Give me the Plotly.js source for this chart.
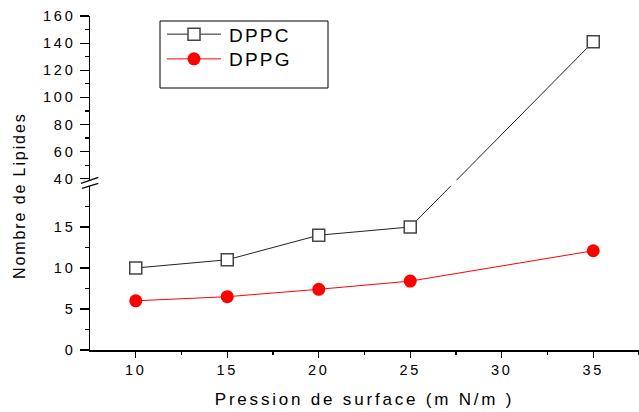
<!DOCTYPE html>
<html>
<head>
<meta charset="utf-8">
<script src="https://cdn.plot.ly/plotly-3.0.1.min.js"></script>
<style>
  html, body { margin: 0; padding: 0; background: #fff; }
  #chart { width: 639px; height: 412px; }
  .xtick text, .ytick text { letter-spacing: 2.8px; }
  .xtitle { letter-spacing: 2.8px; }
  .legendtext { letter-spacing: 2.2px; }
  .annotation-text { letter-spacing: 1.9px; }
</style>
</head>
<body>
<div id="chart"></div>
<script>
// ---- data ----
const pression = [10, 15, 20, 25, 35];
const dppc = [10, 11, 14, 15, 141];
const dppg = [6.0, 6.5, 7.4, 8.4, 12.1];
const seriesNames = ["DPPC", "DPPG"];

const xTicks = [10, 15, 20, 25, 30, 35];
const xMinor = [12.5, 17.5, 22.5, 27.5, 32.5, 37.5];
const yTicksLow = [0, 5, 10, 15];
const yTicksHigh = [40, 60, 80, 100, 120, 140, 160];
const yMinorLow = [2.5, 7.5, 12.5, 17.5];
const yMinorHigh = [50, 70, 90, 110, 130, 150];

const xTitle = "Pression de surface (m N/m )";
const yTitle = "Nombre de Lipides";

// ---- broken y axis scale: lower segment 0..20.4, upper segment 37.1..160 (compressed) ----
const LOW_MAX = 20.4, UP_MIN = 37.1, UP_K = 0.1654;
function brk(v) { return v <= LOW_MAX ? v : LOW_MAX + (v - UP_MIN) * UP_K; }

const yTickVals = yTicksLow.concat(yTicksHigh).map(brk);
const yTickText = yTicksLow.concat(yTicksHigh).map(String);
const yMinorVals = yMinorLow.concat(yMinorHigh).map(brk);

const FONT = 'Arial, "Liberation Sans", sans-serif';

const traces = [
  {
    x: pression, y: dppc.map(brk), customdata: dppc, name: seriesNames[0],
    type: 'scatter', mode: 'lines+markers',
    line: { color: '#222', width: 1 },
    marker: { symbol: 'square', size: 12, color: '#fff', line: { color: '#444', width: 1.5 } },
    cliponaxis: false
  },
  {
    x: pression, y: dppg.map(brk), customdata: dppg, name: seriesNames[1],
    type: 'scatter', mode: 'lines+markers',
    line: { color: '#ff0000', width: 1 },
    marker: { symbol: 'circle', size: 13, color: '#ff0000', line: { width: 0 } },
    cliponaxis: false
  }
];

// helpers converting page pixels to paper coords (for decorations only)
const L = 90, T = 16, W = 549, H = 334;
const px = v => (v - L) / W;
const py = v => (T + H - v) / H;

const layout = {
  width: 639, height: 412,
  margin: { l: L, r: 0, t: T, b: 412 - T - H },
  paper_bgcolor: '#fff', plot_bgcolor: '#fff',
  font: { family: FONT, color: '#000' },
  showlegend: true,
  legend: {
    x: px(162), y: py(15.3), xanchor: 'left', yanchor: 'top',
    bgcolor: 'rgba(0,0,0,0)', borderwidth: 0,
    font: { family: FONT, size: 19, color: '#000' },
    itemwidth: 57, tracegroupgap: 0
  },
  xaxis: {
    range: [7.5, 37.5], tickmode: 'array', tickvals: xTicks,
    ticks: 'outside', ticklen: 6, tickwidth: 1.2, tickcolor: '#000',
    showline: true, linecolor: '#000', linewidth: 1.5,
    showgrid: false, zeroline: false,
    tickfont: { family: FONT, size: 14.5, color: '#000' },
    minor: { tickvals: xMinor, ticks: 'outside', ticklen: 3, tickcolor: '#000', tickwidth: 1.2 },
    title: { text: xTitle, font: { family: FONT, size: 17, color: '#000' }, standoff: 16 },
    automargin: false
  },
  yaxis: {
    range: [0, brk(160)], tickmode: 'array', tickvals: yTickVals, ticktext: yTickText,
    ticks: 'outside', ticklen: 9, tickwidth: 1.2, tickcolor: '#000',
    showline: true, linecolor: '#000', linewidth: 1.5,
    showgrid: false, zeroline: false,
    tickfont: { family: FONT, size: 14.5, color: '#000' },
    ticklabelstandoff: 1,
    minor: { tickvals: yMinorVals, ticks: 'outside', ticklen: 4, tickcolor: '#000', tickwidth: 1.2 },
    automargin: false
  },
  annotations: [
    {
      text: yTitle, xref: 'paper', yref: 'paper', x: px(19), y: py(196),
      xanchor: 'center', yanchor: 'middle', textangle: -90, showarrow: false,
      font: { family: FONT, size: 16, color: '#000' }
    }
  ],
  shapes: [
    // legend frame
    { type: 'rect', xref: 'paper', yref: 'paper', x0: px(160), x1: px(328), y0: py(88), y1: py(21),
      line: { color: '#000', width: 1 }, fillcolor: 'rgba(0,0,0,0)', layer: 'above' },
    // break band across the plot
    { type: 'rect', xref: 'paper', yref: 'paper', x0: px(92.5), x1: 1, y0: py(185.8), y1: py(180.3),
      line: { width: 0 }, fillcolor: '#fff', layer: 'above' },
    // gap in the axis line between the break marks
    { type: 'path', xref: 'paper', yref: 'paper',
      path: `M${px(81)},${py(183.3)} L${px(98.3)},${py(177.3)} L${px(98.3)},${py(183.3)} L${px(82)},${py(188.3)} Z`,
      line: { width: 0 }, fillcolor: '#fff', layer: 'above' },
    // break marks
    { type: 'line', xref: 'paper', yref: 'paper', x0: px(81), y0: py(183.3), x1: px(98.3), y1: py(177.3),
      line: { color: '#000', width: 1.3 }, layer: 'above' },
    { type: 'line', xref: 'paper', yref: 'paper', x0: px(82), y0: py(188.3), x1: px(98.3), y1: py(183.3),
      line: { color: '#000', width: 1.3 }, layer: 'above' }
  ]
};

Plotly.newPlot('chart', traces, layout, { displayModeBar: false, staticPlot: true }).then(gd => {
  // longer legend sample lines, symbol in the middle of the line, tighter row spacing
  const items = gd.querySelectorAll('.legend .traces');
  let first = null;
  items.forEach((tr, i) => {
    tr.querySelectorAll('path.js-line').forEach(p => p.setAttribute('d', 'M5,0h54'));
    tr.querySelectorAll('path.scatterpts').forEach(p => p.setAttribute('transform', 'translate(32,0)'));
    const m = /translate\(\s*([-\d.]+)[ ,]+([-\d.]+)\s*\)/.exec(tr.getAttribute('transform') || '');
    if (m) {
      if (i === 0) first = [parseFloat(m[1]), parseFloat(m[2])];
      else if (first) tr.setAttribute('transform', `translate(${first[0]},${first[1] + 24.7 * i})`);
    }
  });
});
</script>
</body>
</html>
